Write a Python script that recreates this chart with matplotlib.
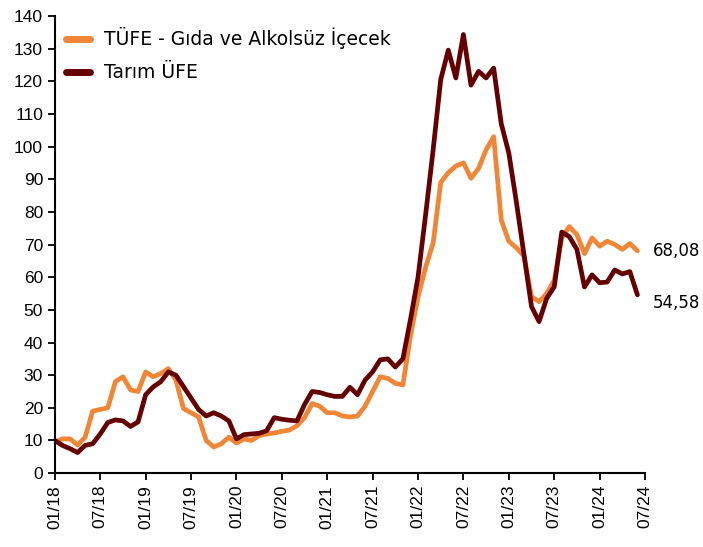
import matplotlib
matplotlib.use("Agg")
import matplotlib.pyplot as plt

# monthly, 01/18 .. 06/24 (annual % change)
tufe_gida = [9.5, 10.5, 10.5, 8.6, 11.0, 19.0, 19.5, 20.0, 28.0, 29.5, 25.5, 25.0,
             31.0, 29.5, 30.5, 32.0, 28.5, 19.8, 18.5, 17.2, 10.0, 8.0, 9.0, 11.0,
             9.2, 10.5, 10.0, 11.5, 12.0, 12.3, 12.8, 13.2, 14.5, 17.0, 21.3, 20.5,
             18.5, 18.5, 17.5, 17.2, 17.5, 20.5, 25.0, 29.5, 29.0, 27.5, 27.0, 42.0,
             54.0, 63.0, 70.5, 89.0, 92.0, 94.0, 95.0, 90.3, 93.3, 99.0, 103.0, 77.5,
             71.0, 69.0, 66.5, 54.0, 52.5, 55.0, 59.0, 72.0, 75.5, 73.0, 67.2, 72.0,
             69.5, 71.0, 70.0, 68.5, 70.3, 68.08]
tarim_ufe = [10.0, 8.5, 7.5, 6.3, 8.5, 9.0, 12.0, 15.5, 16.3, 16.0, 14.3, 15.7,
             24.0, 26.4, 28.0, 31.0, 30.0, 26.5, 23.0, 19.5, 17.5, 18.5, 17.5, 16.0,
             10.5, 11.8, 12.0, 12.2, 13.0, 17.0, 16.5, 16.2, 16.0, 21.0, 25.0, 24.7,
             24.0, 23.5, 23.5, 26.3, 24.0, 28.5, 31.0, 34.7, 35.0, 32.5, 35.0, 47.0,
             60.0, 79.0, 99.0, 120.5, 129.5, 121.0, 134.3, 118.8, 123.0, 121.0, 124.0, 107.0,
             98.0, 83.0, 67.0, 51.0, 46.4, 53.5, 57.0, 73.8, 72.4, 68.5, 57.0, 60.7,
             58.3, 58.5, 62.2, 61.0, 61.7, 54.58]
tick_labels = ["01/18", "07/18", "01/19", "07/19", "01/20", "07/20", "01/21",
               "07/21", "01/22", "07/22", "01/23", "07/23", "01/24", "07/24"]
last_labels = ["68,08", "54,58"]

orange = "#F08636"
maroon = "#650000"

fig = plt.figure(figsize=(7.03, 5.47), dpi=100)
ax = fig.add_axes([0.078, 0.135, 0.8395, 0.836])

months = list(range(len(tufe_gida)))
ax.plot(months, tufe_gida, color=orange, lw=3.4, label="TÜFE - Gıda ve Alkolsüz İçecek",
        solid_joinstyle="round", solid_capstyle="round")
ax.plot(months, tarim_ufe, color=maroon, lw=3.4, label="Tarım ÜFE",
        solid_joinstyle="round", solid_capstyle="round")

ax.set_xlim(0, 78)
ax.set_ylim(0, 140)
ax.set_xticks(range(0, 79, 6))
ax.set_xticklabels(tick_labels, rotation=90, fontsize=12.5, family="Liberation Sans")
ax.set_yticks(range(0, 141, 10))
ax.tick_params(axis="y", labelsize=12.5, direction="out", length=5, width=1.3)
ax.tick_params(axis="x", direction="out", length=5, width=1.3)
for lab in ax.get_yticklabels():
    lab.set_family("Liberation Sans")

for side in ["top", "right"]:
    ax.spines[side].set_visible(False)
for side in ["left", "bottom"]:
    ax.spines[side].set_linewidth(1.5)

# end-of-series value labels
ax.annotate(last_labels[0], (months[-1], tufe_gida[-1]), xytext=(11, 0),
            textcoords="offset points", va="center", ha="left", fontsize=12,
            annotation_clip=False)
ax.annotate(last_labels[1], (months[-1], tarim_ufe[-1]), xytext=(11, -6),
            textcoords="offset points", va="center", ha="left", fontsize=12,
            annotation_clip=False)

leg = ax.legend(loc="upper left", frameon=False, fontsize=13.5, handlelength=1.3,
                handletextpad=0.7, borderaxespad=0.2, labelspacing=0.75,
                bbox_to_anchor=(0.0, 1.0))
for line in leg.get_lines():
    line.set_linewidth(5)

fig.savefig("out.png", dpi=100)
